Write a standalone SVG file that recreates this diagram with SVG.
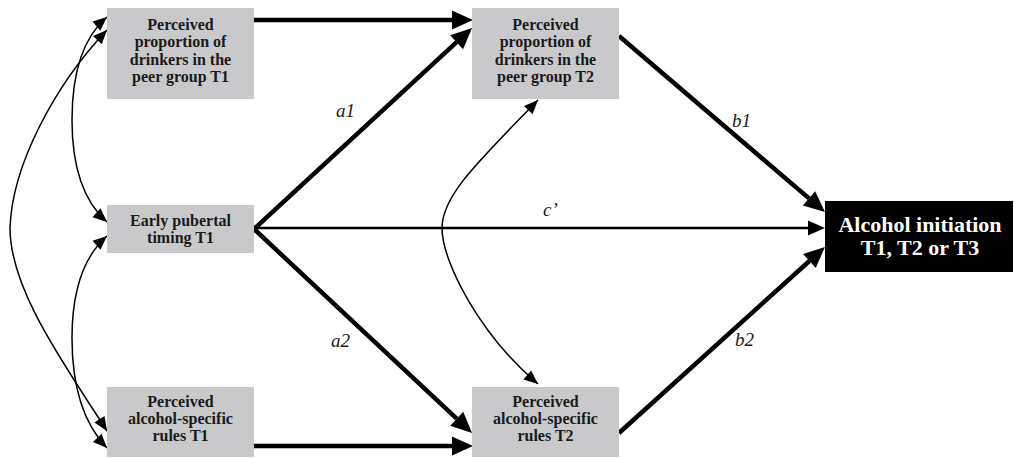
<svg xmlns="http://www.w3.org/2000/svg" width="1014" height="458" viewBox="0 0 1014 458">
<style>
.box{fill:#c9c9cb;}
.out{fill:#000;}
.nt{font-family:"Liberation Serif","Times New Roman",serif;font-weight:bold;font-size:16px;fill:#1a1a1a;text-anchor:middle;}
.ot{font-family:"Liberation Serif","Times New Roman",serif;font-weight:bold;font-size:22px;fill:#fff;text-anchor:middle;}
.lb{font-family:"Liberation Serif","Times New Roman",serif;font-style:italic;font-size:19px;fill:#1a1a1a;}
.thick{stroke:#000;stroke-width:4.5;fill:none;marker-end:url(#hBig);}
.mid{stroke:#000;stroke-width:2.5;fill:none;marker-end:url(#hMid);}
.cov{stroke:#000;stroke-width:1.5;fill:none;marker-start:url(#hSmall);marker-end:url(#hSmall);}
</style>
<defs>
<marker id="hBig" markerUnits="userSpaceOnUse" markerWidth="21" markerHeight="19" refX="0" refY="9.5" orient="auto" overflow="visible">
<path d="M0,0 L21,9.5 L0,19 z" fill="#000"/>
</marker>
<marker id="hMid" markerUnits="userSpaceOnUse" markerWidth="17" markerHeight="15" refX="0" refY="7.5" orient="auto" overflow="visible">
<path d="M0,0 L17,7.5 L0,15 z" fill="#000"/>
</marker>
<marker id="hSmall" markerUnits="userSpaceOnUse" markerWidth="14" markerHeight="12" refX="14" refY="6" orient="auto-start-reverse" overflow="visible">
<path d="M0,0 L14,6 L0,12 z" fill="#000"/>
</marker>
</defs>
<g id="connectors">
<line class="thick" x1="254" y1="20" x2="452" y2="20"/>
<line class="thick" x1="254" y1="229" x2="456.6" y2="42.2"/>
<line class="thick" x1="254" y1="229" x2="456.7" y2="418.7"/>
<line class="thick" x1="254" y1="446" x2="452" y2="446"/>
<line class="thick" x1="619" y1="36" x2="809" y2="198.4"/>
<line class="thick" x1="619" y1="433" x2="809.4" y2="261"/>
<line class="mid" x1="254" y1="228" x2="808" y2="228"/>
<path class="cov" d="M538,100 C480,160 442,195 442,228 C442,262 480,335 538,384"/>
<path class="cov" d="M107,17 C80,40 72,80 72,120 C72,165 82,200 107,222"/>
<path class="cov" d="M107,30 C55,85 12,165 10,228 C10,290 65,365 107,431"/>
<path class="cov" d="M107,236 C82,258 72,293 72,338 C72,380 80,420 107,448"/>
<text class="lb" x="336" y="117">a1</text>
<text class="lb" x="331" y="347">a2</text>
<text class="lb" x="543" y="216">c’</text>
<text class="lb" x="732" y="127">b1</text>
<text class="lb" x="735" y="346">b2</text>
</g>
<g id="peerT1">
<rect class="box" x="107" y="8" width="147" height="91"/>
<text class="nt" x="180.5" y="29.5">Perceived</text>
<text class="nt" x="180.5" y="47">proportion of</text>
<text class="nt" x="180.5" y="64.5">drinkers in the</text>
<text class="nt" x="180.5" y="82">peer group T1</text>
</g>
<g id="peerT2">
<rect class="box" x="472" y="8" width="147" height="91"/>
<text class="nt" x="545.5" y="29.5">Perceived</text>
<text class="nt" x="545.5" y="47">proportion of</text>
<text class="nt" x="545.5" y="64.5">drinkers in the</text>
<text class="nt" x="545.5" y="82">peer group T2</text>
</g>
<g id="pubertal">
<rect class="box" x="107" y="205" width="147" height="48"/>
<text class="nt" x="180.5" y="226">Early pubertal</text>
<text class="nt" x="180.5" y="243">timing T1</text>
</g>
<g id="rulesT1">
<rect class="box" x="107" y="387" width="147" height="70"/>
<text class="nt" x="180.5" y="407">Perceived</text>
<text class="nt" x="180.5" y="424">alcohol-specific</text>
<text class="nt" x="180.5" y="441">rules T1</text>
</g>
<g id="rulesT2">
<rect class="box" x="472" y="387" width="147" height="70"/>
<text class="nt" x="545.5" y="407">Perceived</text>
<text class="nt" x="545.5" y="424">alcohol-specific</text>
<text class="nt" x="545.5" y="441">rules T2</text>
</g>
<g id="outcome">
<rect class="out" x="825" y="201" width="188" height="71"/>
<text class="ot" x="920" y="232">Alcohol initiation</text>
<text class="ot" x="920" y="255">T1, T2 or T3</text>
</g>
</svg>
